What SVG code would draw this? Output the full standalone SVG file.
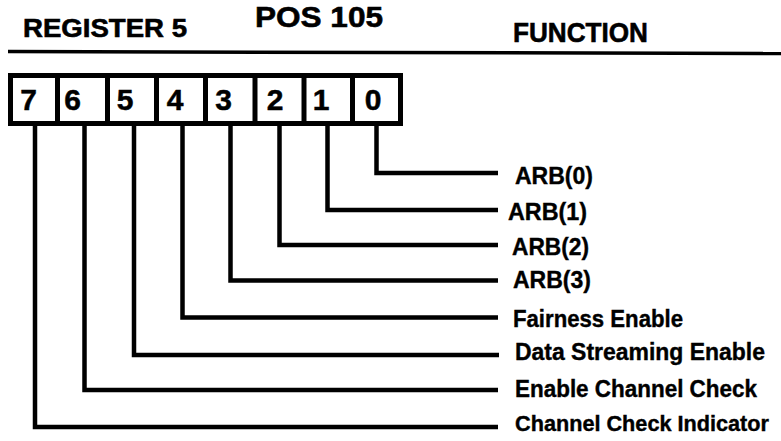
<svg xmlns="http://www.w3.org/2000/svg" width="781" height="441" viewBox="0 0 781 441">
<style>
  .hdr { font-family: "Liberation Sans", Arial, sans-serif; font-weight: bold; fill: #000; stroke: #000; stroke-width: 0.6; }
  .dig { font-family: "Liberation Sans", Arial, sans-serif; font-weight: bold; font-size: 30px; fill: #000; stroke: #000; stroke-width: 0.5; text-anchor: middle; }
  .lbl { font-family: "Liberation Sans", Arial, sans-serif; font-weight: bold; font-size: 24px; fill: #000; stroke: #000; stroke-width: 0.4; }
  .lbl.sm { font-size: 22px; }
  .box { fill: #fff; stroke: #000; stroke-width: 5; }
  .div { stroke: #000; stroke-width: 5; }
  .lead { fill: none; stroke: #000; stroke-width: 4.5; stroke-linejoin: miter; stroke-linecap: butt; }
</style>
<rect width="781" height="441" fill="#fff"/>
<g id="header">
  <text class="hdr" x="23" y="37" font-size="26" textLength="164" lengthAdjust="spacingAndGlyphs">REGISTER 5</text>
  <text class="hdr" x="255" y="27" font-size="30" textLength="128" lengthAdjust="spacingAndGlyphs">POS 105</text>
  <text class="hdr" x="513" y="42" font-size="28" textLength="135" lengthAdjust="spacingAndGlyphs">FUNCTION</text>
  <line x1="8" y1="51.5" x2="781" y2="53.5" stroke="#000" stroke-width="3.5"/>
</g>
<g id="register">
  <rect class="box" x="10.5" y="75.5" width="390" height="48"/>
  <line class="div" x1="57.5" y1="75.5" x2="57.5" y2="123.5"/>
  <line class="div" x1="107.5" y1="75.5" x2="107.5" y2="123.5"/>
  <line class="div" x1="156.5" y1="75.5" x2="156.5" y2="123.5"/>
  <line class="div" x1="205.5" y1="75.5" x2="205.5" y2="123.5"/>
  <line class="div" x1="255" y1="75.5" x2="255" y2="123.5"/>
  <line class="div" x1="304" y1="75.5" x2="304" y2="123.5"/>
  <line class="div" x1="352.5" y1="75.5" x2="352.5" y2="123.5"/>
  <text class="dig" x="28.5" y="110">7</text>
  <text class="dig" x="72.5" y="110">6</text>
  <text class="dig" x="125" y="110">5</text>
  <text class="dig" x="175" y="110">4</text>
  <text class="dig" x="223.5" y="110">3</text>
  <text class="dig" x="275" y="110">2</text>
  <text class="dig" x="321" y="110">1</text>
  <text class="dig" x="373" y="110">0</text>
</g>
<g id="connectors">
  <polyline class="lead" points="376.5,124 376.5,173 498,173"/>
  <polyline class="lead" points="327.5,124 327.5,210 498,210"/>
  <polyline class="lead" points="279.5,124 279.5,245 498,245"/>
  <polyline class="lead" points="230.5,124 230.5,280.5 498,280.5"/>
  <polyline class="lead" points="182.5,124 182.5,317.5 498,317.5"/>
  <polyline class="lead" points="134,124 134,355 499,355"/>
  <polyline class="lead" points="84.5,124 84.5,390 498,390"/>
  <polyline class="lead" points="35,124 35,427 498,427"/>
</g>
<g id="bit0"><text class="lbl" x="515" y="184" textLength="78" lengthAdjust="spacingAndGlyphs">ARB(0)</text></g>
<g id="bit1"><text class="lbl" x="508" y="220" textLength="79" lengthAdjust="spacingAndGlyphs">ARB(1)</text></g>
<g id="bit2"><text class="lbl" x="512" y="255" textLength="77" lengthAdjust="spacingAndGlyphs">ARB(2)</text></g>
<g id="bit3"><text class="lbl" x="513" y="288" textLength="78" lengthAdjust="spacingAndGlyphs">ARB(3)</text></g>
<g id="bit4"><text class="lbl" x="513" y="327" textLength="170" lengthAdjust="spacingAndGlyphs">Fairness Enable</text></g>
<g id="bit5"><text class="lbl" x="515" y="360" textLength="250" lengthAdjust="spacingAndGlyphs">Data Streaming Enable</text></g>
<g id="bit6"><text class="lbl" x="515" y="397" textLength="242" lengthAdjust="spacingAndGlyphs">Enable Channel Check</text></g>
<g id="bit7"><text class="lbl sm" x="515" y="431" textLength="254" lengthAdjust="spacingAndGlyphs">Channel Check Indicator</text></g>
</svg>
